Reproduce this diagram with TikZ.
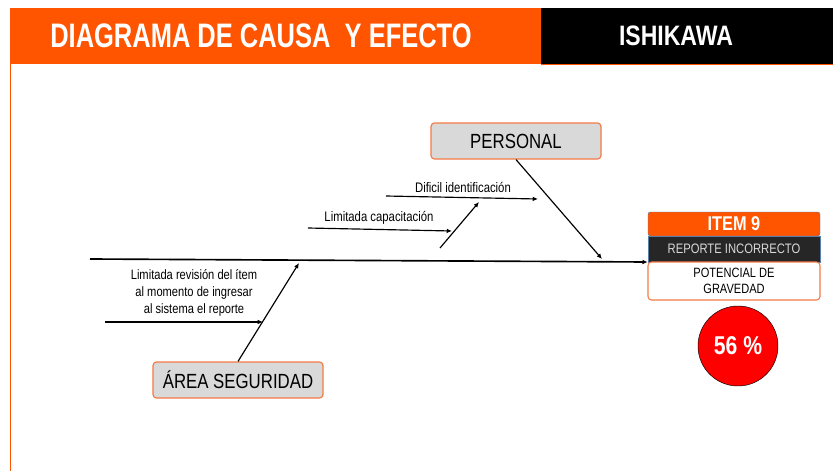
\documentclass[tikz,border=0pt]{standalone}
\usepackage{fontspec}
\setmainfont{Liberation Sans}[FakeStretch=0.82]
\newfontfamily\titlefont{Liberation Sans}[FakeStretch=0.75]
\usepackage{tikz}
\usetikzlibrary{arrows.meta, positioning, calc}
\definecolor{hdrorange}{HTML}{FF5400}
\definecolor{boxorange}{HTML}{F47A45}
\definecolor{boxgray}{HTML}{D9D9D9}
\definecolor{darkbar}{HTML}{262626}
\definecolor{edgeblue}{HTML}{5A7FA8}
\definecolor{gravred}{HTML}{FF0000}

\tikzset{
  causebox/.style={draw=boxorange, line width=1pt, fill=boxgray, rounded corners=3pt,
    minimum width=5.1cm, minimum height=1.08cm, font=\fontsize{17.5}{19}\selectfont},
  causetext/.style={font=\fontsize{11.8}{14.2}\selectfont, align=center, inner sep=1pt},
  causearrow/.style={-{Latex[length=4.5pt,width=4pt]}, line width=1pt},
  itembox/.style={minimum width=5.16cm, inner sep=0pt, align=center}
}

\begin{document}
\begin{tikzpicture}[x=0.03cm, y=-0.03cm]
  \useasboundingbox (0,0) rectangle (833,471);

  % Header
  \fill[hdrorange] (10,8) rectangle (541,64);
  \fill[black] (541,8) rectangle (833,64);
  \draw[hdrorange, line width=1.2pt] (541,64.5) -- (833,64.5);
  \draw[hdrorange, line width=1.5pt] (10.5,64) -- (10.5,471);
  \node[text=white, font=\titlefont\fontsize{29}{31}\selectfont\bfseries] (title) at (261,36) {DIAGRAMA DE CAUSA\ \ Y EFECTO};
  \node[text=white, font=\fontsize{24}{26}\selectfont\bfseries] (ishikawa) at (676,36) {ISHIKAWA};

  % Effect
  \node[itembox, fill=hdrorange, draw=edgeblue, rounded corners=2pt, minimum height=0.72cm,
    text=white, font=\fontsize{17}{19}\selectfont\bfseries] (item) at (734,224) {ITEM 9};
  \node[itembox, fill=darkbar, draw=edgeblue, minimum height=0.78cm,
    text=white!85!black, font=\fontsize{11.7}{13}\selectfont] (reporte) at (734,249) {REPORTE INCORRECTO};
  \node[itembox, fill=white, draw=boxorange, line width=0.9pt, rounded corners=3pt, minimum height=1.14cm,
    font=\fontsize{11.5}{13.6}\selectfont] (potencial) at (734,281) {POTENCIAL DE\\GRAVEDAD};
  \node[circle, fill=gravred, draw=black, line width=0.4pt, minimum size=2.4cm,
    text=white, font=\fontsize{22}{24}\selectfont\bfseries] (pct) at (738,346) {56 \%};

  % Spine
  \coordinate (spineL) at (90,259);
  \draw[causearrow, line width=1.4pt] (spineL) -- (reporte.west |- 0,262);

  % Causes
  \node[causebox] (personal) at (516,141) {PERSONAL};
  \node[causebox] (area) at (238,380) {ÁREA SEGURIDAD};

  \coordinate (pEnd) at (602,259);
  \coordinate (aEnd) at (299,263);
  \draw[causearrow] (personal.south) -- (pEnd);
  \draw[causearrow] (area.north) -- (aEnd);

  % Sub causes
  \node[causetext] (dificil) at (463,187) {Dificil identificación};
  \node[causetext] (limcap) at (379,218) {Limitada capacitación};
  \node[causetext, font=\fontsize{11.6}{14.2}\selectfont] (limrev) at (194,293) {Limitada revisión del ítem\\al momento de ingresar\\al sistema el reporte};

  \coordinate (d1) at (386,196);
  \coordinate (d2) at (538,199);
  \coordinate (c1) at (308,228);
  \coordinate (c2) at (452,231);
  \coordinate (b1) at (440,248);
  \coordinate (b2) at (479,202);
  \coordinate (r1) at (105,322);
  \coordinate (r2) at (263,322);
  \draw[causearrow] (d1) -- (d2);
  \draw[causearrow] (c1) -- (c2);
  \draw[causearrow] (b1) -- (b2);
  \draw[causearrow] (r1) -- (r2);

\end{tikzpicture}
\end{document}
